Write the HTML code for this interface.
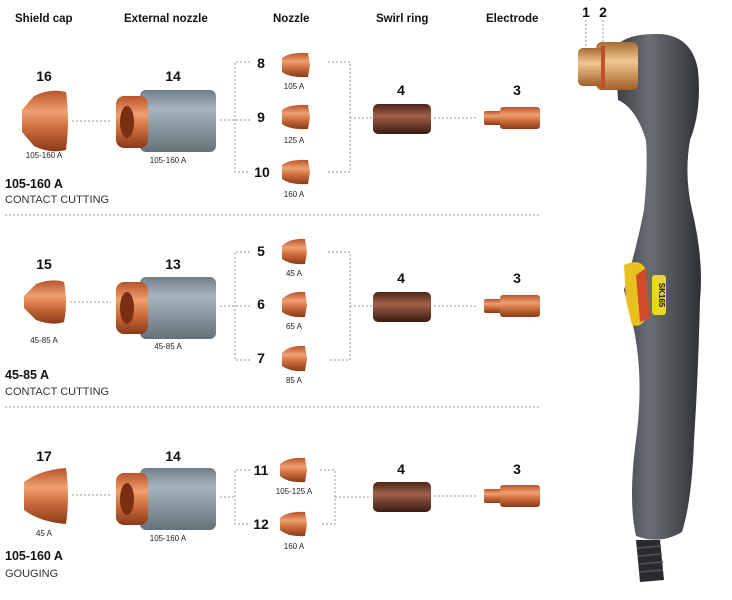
<!DOCTYPE html>
<html><head><meta charset="utf-8"><style>
html,body{margin:0;padding:0;background:#fff;width:732px;height:600px;overflow:hidden}
svg{display:block}
text{font-family:"Liberation Sans",sans-serif;fill:#111}
.h{font-size:11.5px;font-weight:bold}
.n{font-size:14px;font-weight:bold;text-anchor:middle}
.l{font-size:8px;text-anchor:middle;fill:#222}
.t{font-size:12.5px;font-weight:bold}
.s{font-size:11px;fill:#333}
.d{stroke:#999;stroke-width:1;stroke-dasharray:2,2;fill:none}
</style></head><body>
<svg width="732" height="600" viewBox="0 0 732 600" xmlns="http://www.w3.org/2000/svg">
<defs>
<linearGradient id="cu" x1="0" y1="0" x2="0" y2="1">
<stop offset="0" stop-color="#b8532a"/><stop offset=".35" stop-color="#f0a070"/><stop offset=".6" stop-color="#d07040"/><stop offset="1" stop-color="#8a3a18"/></linearGradient>
<linearGradient id="gr" x1="0" y1="0" x2="0" y2="1">
<stop offset="0" stop-color="#6f7f8a"/><stop offset=".3" stop-color="#a6b4bd"/><stop offset="1" stop-color="#66727a"/></linearGradient>
<linearGradient id="sw" x1="0" y1="0" x2="0" y2="1">
<stop offset="0" stop-color="#4a2418"/><stop offset=".4" stop-color="#a0604a"/><stop offset="1" stop-color="#3a1a10"/></linearGradient>
<linearGradient id="br" x1="0" y1="0" x2="0" y2="1">
<stop offset="0" stop-color="#a86a30"/><stop offset=".4" stop-color="#f0c890"/><stop offset="1" stop-color="#a06028"/></linearGradient>
<linearGradient id="hd" x1="0" y1="0" x2="1" y2="0">
<stop offset="0" stop-color="#3a3d42"/><stop offset=".4" stop-color="#6a6e74"/><stop offset="1" stop-color="#2e3034"/></linearGradient>
</defs>

<text class="h" x="15" y="22">Shield cap</text>
<text class="h" x="124" y="22">External nozzle</text>
<text class="h" x="273" y="22">Nozzle</text>
<text class="h" x="376" y="22">Swirl ring</text>
<text class="h" x="486" y="22">Electrode</text>

<g>
<text class="n" x="44" y="81">16</text>
<path d="M22,110 L34,96 Q50,88 66,92 Q70,121 66,150 Q50,154 34,146 L22,132 Z" fill="url(#cu)"/>
<text class="l" x="44" y="158">105-160 A</text>
<line class="d" x1="72" y1="121" x2="111" y2="121"/>
<text class="n" x="173" y="81">14</text>
<rect x="140" y="90" width="76" height="62" rx="6" fill="url(#gr)"/>
<rect x="116" y="96" width="32" height="52" rx="8" fill="url(#cu)"/>
<ellipse cx="127" cy="122" rx="7" ry="16" fill="#7a2e12"/>
<text class="l" x="168" y="163">105-160 A</text>
<line class="d" x1="220" y1="120" x2="250" y2="120"/>
<path class="d" d="M250,62 H235 V172 H250"/>
<text class="n" x="261" y="68">8</text><text class="n" x="261" y="122">9</text><text class="n" x="262" y="177">10</text>
<path d="M282,58 Q290,52 308,53 L310,65 L308,77 Q290,78 282,72 Z" fill="url(#cu)"/>
<path d="M282,110 Q290,104 308,105 L310,117 L308,129 Q290,130 282,124 Z" fill="url(#cu)"/>
<path d="M282,165 Q290,159 308,160 L310,172 L308,184 Q290,185 282,179 Z" fill="url(#cu)"/>
<text class="l" x="294" y="89">105 A</text><text class="l" x="294" y="143">125 A</text><text class="l" x="294" y="197">160 A</text>
<path class="d" d="M328,62 H350 V172 H328 M350,118 H372"/>
<text class="n" x="401" y="95">4</text>
<rect x="373" y="104" width="58" height="30" rx="5" fill="url(#sw)"/>
<line class="d" x1="434" y1="118" x2="478" y2="118"/>
<text class="n" x="517" y="95">3</text>
<rect x="484" y="111" width="18" height="14" rx="2" fill="url(#cu)"/>
<rect x="500" y="107" width="40" height="22" rx="3" fill="url(#cu)"/>
<text class="t" x="5" y="188">105-160 A</text>
<text class="s" x="5" y="203">CONTACT CUTTING</text>
<line class="d" x1="5" y1="215" x2="540" y2="215"/>
</g>

<g>
<text class="n" x="44" y="269">15</text>
<path d="M24,296 L36,284 Q52,278 64,282 Q68,302 64,322 Q52,326 36,320 L24,308 Z" fill="url(#cu)"/>
<text class="l" x="44" y="343">45-85 A</text>
<line class="d" x1="70" y1="302" x2="111" y2="302"/>
<text class="n" x="173" y="269">13</text>
<rect x="140" y="277" width="76" height="62" rx="6" fill="url(#gr)"/>
<rect x="116" y="282" width="32" height="52" rx="8" fill="url(#cu)"/>
<ellipse cx="127" cy="308" rx="7" ry="16" fill="#7a2e12"/>
<text class="l" x="168" y="349">45-85 A</text>
<line class="d" x1="220" y1="306" x2="250" y2="306"/>
<path class="d" d="M250,252 H235 V360 H250"/>
<text class="n" x="261" y="256">5</text><text class="n" x="261" y="309">6</text><text class="n" x="261" y="363">7</text>
<path d="M282,246 Q290,238 305,239 L307,252 L305,264 Q290,265 282,259 Z" fill="url(#cu)"/>
<path d="M282,299 Q290,291 305,292 L307,305 L305,317 Q290,318 282,312 Z" fill="url(#cu)"/>
<path d="M282,353 Q290,345 305,346 L307,359 L305,371 Q290,372 282,366 Z" fill="url(#cu)"/>
<text class="l" x="294" y="276">45 A</text><text class="l" x="294" y="329">65 A</text><text class="l" x="294" y="383">85 A</text>
<path class="d" d="M328,252 H350 V360 H328 M350,306 H372"/>
<text class="n" x="401" y="283">4</text>
<rect x="373" y="292" width="58" height="30" rx="5" fill="url(#sw)"/>
<line class="d" x1="434" y1="306" x2="478" y2="306"/>
<text class="n" x="517" y="283">3</text>
<rect x="484" y="299" width="18" height="14" rx="2" fill="url(#cu)"/>
<rect x="500" y="295" width="40" height="22" rx="3" fill="url(#cu)"/>
<text class="t" x="5" y="379">45-85 A</text>
<text class="s" x="5" y="395">CONTACT CUTTING</text>
<line class="d" x1="5" y1="407" x2="540" y2="407"/>
</g>

<g>
<text class="n" x="44" y="461">17</text>
<path d="M24,482 Q40,470 66,468 Q70,496 66,524 Q40,522 24,510 Z" fill="url(#cu)"/>
<text class="l" x="44" y="536">45 A</text>
<line class="d" x1="72" y1="495" x2="111" y2="495"/>
<text class="n" x="173" y="461">14</text>
<rect x="140" y="468" width="76" height="62" rx="6" fill="url(#gr)"/>
<rect x="116" y="473" width="32" height="52" rx="8" fill="url(#cu)"/>
<ellipse cx="127" cy="499" rx="7" ry="16" fill="#7a2e12"/>
<text class="l" x="168" y="541">105-160 A</text>
<line class="d" x1="220" y1="497" x2="235" y2="497"/>
<path class="d" d="M250,470 H235 V524 H250"/>
<text class="n" x="261" y="475">11</text><text class="n" x="261" y="529">12</text>
<path d="M280,464 Q288,457 305,458 L307,470 L305,482 Q288,483 280,476 Z" fill="url(#cu)"/>
<path d="M280,518 Q288,511 305,512 L307,524 L305,536 Q288,537 280,530 Z" fill="url(#cu)"/>
<text class="l" x="294" y="494">105-125 A</text><text class="l" x="294" y="549">160 A</text>
<path class="d" d="M320,470 H335 V524 H320 M335,497 H372"/>
<text class="n" x="401" y="474">4</text>
<rect x="373" y="482" width="58" height="30" rx="5" fill="url(#sw)"/>
<line class="d" x1="434" y1="496" x2="478" y2="496"/>
<text class="n" x="517" y="474">3</text>
<rect x="484" y="489" width="18" height="14" rx="2" fill="url(#cu)"/>
<rect x="500" y="485" width="40" height="22" rx="3" fill="url(#cu)"/>
<text class="t" x="5" y="560">105-160 A</text>
<text class="s" x="5" y="577">GOUGING</text>
</g>

<text class="n" x="586" y="17">1</text><text class="n" x="603" y="17">2</text>
<line class="d" x1="586" y1="20" x2="586" y2="50"/><line class="d" x1="603" y1="20" x2="603" y2="50"/>
<path d="M636,540 L660,540 L664,580 L640,582 Z" fill="#2a2b2e"/>
<g stroke="#555" stroke-width="1.5"><line x1="637" y1="548" x2="661" y2="546"/><line x1="638" y1="556" x2="662" y2="554"/><line x1="638" y1="564" x2="663" y2="562"/><line x1="639" y1="572" x2="663" y2="570"/></g>
<path d="M615,48 Q625,33 660,34 Q692,36 698,70 Q702,110 690,140 Q684,175 692,210 Q704,260 700,300 Q698,380 694,440 Q692,500 682,532 Q660,545 636,536 Q628,500 636,440 Q644,380 634,330 L624,290 Q636,250 644,210 Q648,170 646,140 Q636,108 618,100 Z" fill="url(#hd)"/>
<rect x="596" y="42" width="42" height="48" rx="6" fill="url(#br)"/>
<rect x="578" y="48" width="26" height="38" rx="5" fill="url(#br)"/>
<rect x="601" y="46" width="4" height="42" fill="#c0502a"/>
<path d="M624,265 Q640,258 645,268 L645,320 Q640,328 632,325 L626,300 Z" fill="#e8c020"/>
<path d="M636,275 L646,268 L650,318 L640,322 Z" fill="#d24a2a"/>
<rect x="652" y="275" width="14" height="40" rx="3" fill="#e8d820"/>
<text x="659" y="295" style="font-size:8px;font-weight:bold" text-anchor="middle" transform="rotate(90 659 295)">SK165</text>
</svg>
</body></html>
